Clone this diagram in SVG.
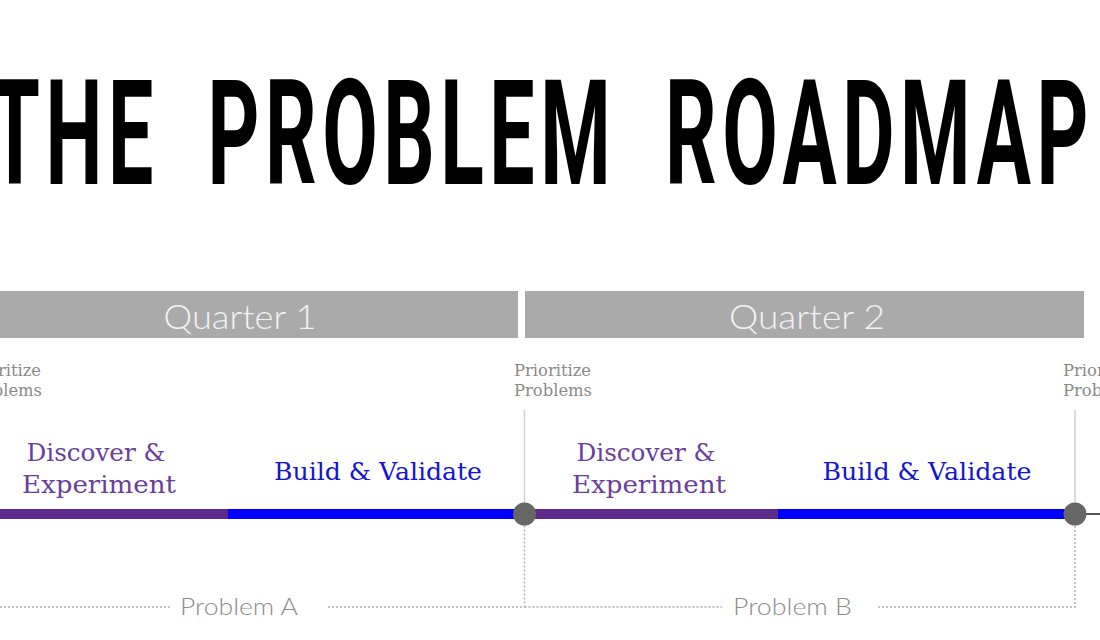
<svg xmlns="http://www.w3.org/2000/svg" width="1100" height="640" viewBox="0 0 1100 640">
<style>
.title{font-family:Roboto,"DejaVu Sans",sans-serif;font-weight:700;font-size:146px;fill:#000;letter-spacing:10px;word-spacing:42px}
.qbar{fill:#aaaaaa}
.qtxt{font-family:Lato,"Open Sans",sans-serif;font-weight:300;font-size:33px;fill:#f2f2f2;text-anchor:middle}
.prio{font-family:"DejaVu Serif","Liberation Serif",serif;font-size:16px;fill:#8a8a8a}
.disc{font-family:"DejaVu Serif","Liberation Serif",serif;font-size:24px;fill:#6a3e9c;text-anchor:middle}
.build{font-family:"DejaVu Serif","Liberation Serif",serif;font-size:24px;fill:#1414d2;text-anchor:middle}
.prob{font-family:Lato,"Open Sans",sans-serif;font-weight:300;font-size:23px;fill:#8c8c8c}
.dot{stroke:#b0b0b0;stroke-width:1.5;stroke-dasharray:2 2;fill:none}
.vsolid{stroke:#cfcfcf;stroke-width:1.5}
.purple{stroke:#5e2b8c;stroke-width:10}
.blue{stroke:#0000ff;stroke-width:10}
.milestone{fill:#666666}
</style>
<rect width="1100" height="640" fill="#ffffff"/>
<g id="title">
<text class="title" x="-10" y="184" textLength="1104" lengthAdjust="spacingAndGlyphs">THE PROBLEM ROADMAP</text>
</g>
<g id="quarter1">
<rect class="qbar" x="-2" y="291" width="520" height="47"/>
<text class="qtxt" x="240" y="329" textLength="153" lengthAdjust="spacingAndGlyphs">Quarter 1</text>
</g>
<g id="quarter2">
<rect class="qbar" x="525" y="291" width="559" height="47"/>
<text class="qtxt" x="807" y="329" textLength="156" lengthAdjust="spacingAndGlyphs">Quarter 2</text>
</g>
<g id="connectors">
<line class="vsolid" x1="524.5" y1="410" x2="524.5" y2="515"/>
<line class="vsolid" x1="1075" y1="410" x2="1075" y2="515"/>
<path class="dot" d="M0 607 H170"/>
<path class="dot" d="M328 607 H524.5 V515"/>
<path class="dot" d="M524.5 607 H722"/>
<path class="dot" d="M878 607 H1075 V515"/>
<line class="purple" x1="0" y1="514" x2="228" y2="514"/>
<line class="blue" x1="228" y1="514" x2="515" y2="514"/>
<line class="purple" x1="534" y1="514" x2="778" y2="514"/>
<line class="blue" x1="778" y1="514" x2="1066" y2="514"/>
<line x1="1084" y1="514" x2="1100" y2="514" stroke="#555555" stroke-width="2"/>
</g>
<g id="prioritize0">
<text class="prio" x="-36" y="376" textLength="77" lengthAdjust="spacingAndGlyphs">Prioritize</text>
<text class="prio" x="-36" y="396" textLength="78" lengthAdjust="spacingAndGlyphs">Problems</text>
</g>
<g id="prioritize1">
<text class="prio" x="514" y="376" textLength="77" lengthAdjust="spacingAndGlyphs">Prioritize</text>
<text class="prio" x="514" y="396" textLength="78" lengthAdjust="spacingAndGlyphs">Problems</text>
</g>
<g id="prioritize2">
<text class="prio" x="1063" y="376" textLength="77" lengthAdjust="spacingAndGlyphs">Prioritize</text>
<text class="prio" x="1063" y="396" textLength="78" lengthAdjust="spacingAndGlyphs">Problems</text>
</g>
<g id="discoverA">
<text class="disc" x="96" y="461" textLength="139" lengthAdjust="spacingAndGlyphs">Discover &amp;</text>
<text class="disc" x="99" y="493" textLength="154" lengthAdjust="spacingAndGlyphs">Experiment</text>
</g>
<g id="buildA">
<text class="build" x="378" y="480" textLength="208" lengthAdjust="spacingAndGlyphs">Build &amp; Validate</text>
</g>
<g id="discoverB">
<text class="disc" x="646" y="461" textLength="139" lengthAdjust="spacingAndGlyphs">Discover &amp;</text>
<text class="disc" x="649" y="493" textLength="154" lengthAdjust="spacingAndGlyphs">Experiment</text>
</g>
<g id="buildB">
<text class="build" x="927" y="480" textLength="209" lengthAdjust="spacingAndGlyphs">Build &amp; Validate</text>
</g>
<g id="milestone1"><circle class="milestone" cx="524.5" cy="514" r="11.5"/></g>
<g id="milestone2"><circle class="milestone" cx="1075" cy="514" r="11.5"/></g>
<g id="problemA">
<text class="prob" x="180" y="615" textLength="118" lengthAdjust="spacingAndGlyphs">Problem A</text>
</g>
<g id="problemB">
<text class="prob" x="733" y="615" textLength="119" lengthAdjust="spacingAndGlyphs">Problem B</text>
</g>
</svg>
